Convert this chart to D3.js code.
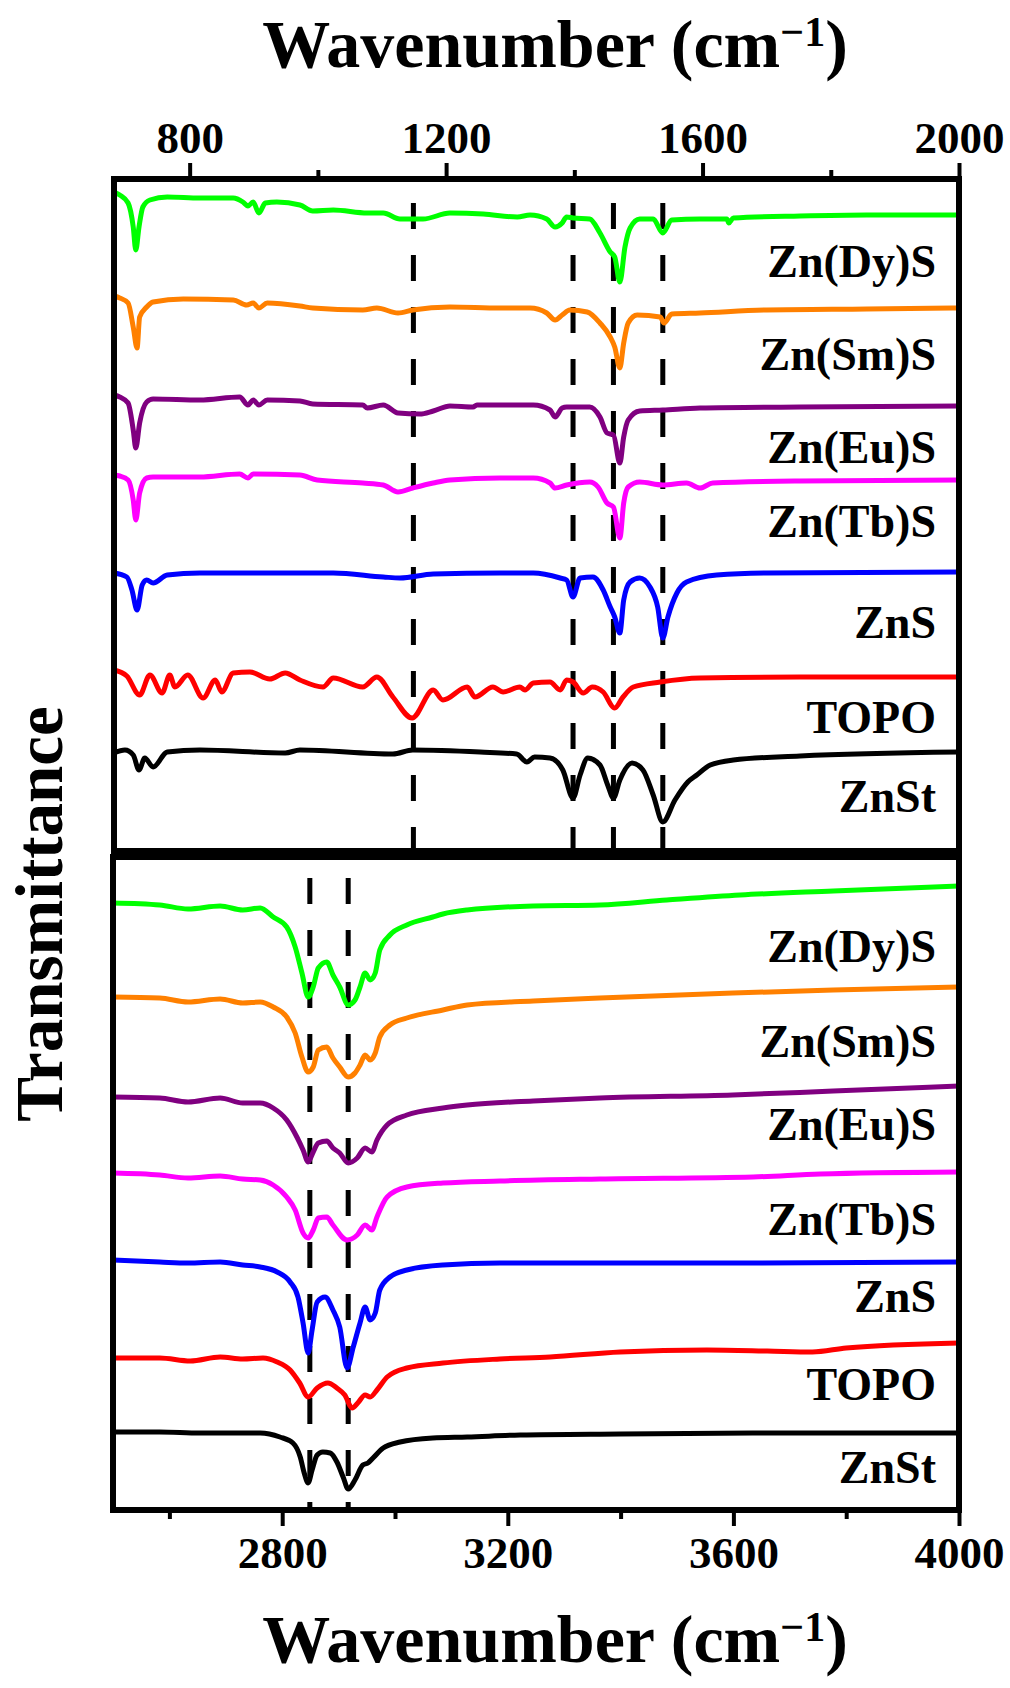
<!DOCTYPE html>
<html><head><meta charset="utf-8">
<script src="https://cdn.jsdelivr.net/npm/d3@7"></script>
<style>
body{margin:0;background:#fff}
svg{display:block}
text{font-family:"Liberation Serif","Times New Roman",serif;font-weight:bold;fill:#000}
</style>
</head><body>
<svg id="chart" width="1010" height="1688"></svg>
<script>
// ---------- DATA (wavenumber cm^-1, transmittance a.u., stacked) ----------
const seriesNames = ["Zn(Dy)S","Zn(Sm)S","Zn(Eu)S","Zn(Tb)S","ZnS","TOPO","ZnSt"];

// Low-wavenumber region (682–2000 cm-1)
const lowDy = [[682,659],[691,656],[704,648],[712,624],[716,601],[721,624],[727,644],[738,651],[765,654],[816,653],[868,653],[883,649],[891,645],[899,649],[908,638],[918,648],[936,649],[972,646],[992,640],[1024,641],[1077,638],[1102,638],[1128,632],[1148,632],[1164,632],[1206,638],[1258,637],[1311,634],[1331,636],[1357,632],[1370,624],[1381,628],[1388,634],[1398,633],[1424,632],[1440,618],[1456,599],[1463,594],[1471,569],[1479,604],[1487,623],[1502,632],[1523,632],[1538,618],[1552,631],[1596,632],[1638,632],[1641,628],[1648,633],[1752,635],[1856,636],[2000,636]];
const lowSm = [[682,555],[691,553],[704,548],[712,524],[718,503],[722,534],[733,544],[743,549],[790,552],[868,551],[889,546],[899,548],[908,543],[921,548],[972,545],[992,543],[1070,541],[1092,543],[1125,538],[1148,541],[1206,544],[1284,543],[1331,543],[1357,538],[1370,531],[1381,536],[1393,541],[1420,539],[1440,528],[1456,514],[1463,504],[1471,483],[1477,508],[1484,528],[1498,536],[1534,534],[1540,528],[1552,537],[1596,538],[1700,541],[1856,542],[2000,543]];
const lowEu = [[682,456],[691,454],[704,448],[712,421],[716,403],[722,428],[733,449],[743,452],[816,451],[878,454],[891,446],[899,451],[908,446],[921,451],[972,450],[992,447],[1070,446],[1077,443],[1102,446],[1125,438],[1159,437],[1180,440],[1206,445],[1242,444],[1248,446],[1336,446],[1362,441],[1370,434],[1381,443],[1388,444],[1424,444],[1440,434],[1451,418],[1461,416],[1471,388],[1477,414],[1484,431],[1502,440],[1538,441],[1596,443],[1752,444],[2000,445]];
const lowTb = [[682,376],[691,375],[704,371],[712,351],[716,331],[722,358],[733,373],[743,374],[816,374],[878,377],[891,373],[899,377],[972,376],[999,371],[1070,368],[1102,366],[1125,359],[1148,363],[1180,368],[1206,371],[1284,373],[1336,373],[1362,368],[1370,363],[1388,366],[1424,369],[1437,364],[1451,348],[1461,344],[1471,313],[1477,348],[1484,364],[1502,369],[1538,366],[1575,368],[1596,363],[1616,368],[1752,370],[2000,371]];
const lowZnS = [[682,278],[702,274],[710,261],[718,241],[726,266],[733,271],[743,268],[765,276],[816,278],[889,278],[1024,278],[1102,274],[1128,273],[1180,277],[1284,278],[1336,278],[1378,273],[1388,271],[1398,254],[1409,273],[1429,274],[1445,261],[1456,244],[1463,234],[1471,218],[1477,251],[1487,269],[1502,273],[1518,264],[1530,244],[1538,213],[1546,234],[1560,258],[1575,269],[1622,276],[1700,278],[2000,279]];
const lowTOPO = [[682,181],[702,175],[722,156],[738,176],[757,158],[769,176],[777,164],[797,176],[821,153],[840,171],[850,159],[868,178],[894,179],[925,172],[949,178],[972,171],[1008,164],[1024,173],[1070,164],[1092,174],[1117,154],[1147,133],[1180,161],[1195,151],[1233,164],[1245,154],[1273,164],[1289,159],[1315,164],[1323,161],[1336,168],[1362,169],[1378,161],[1388,171],[1398,169],[1414,158],[1428,164],[1445,159],[1463,143],[1476,154],[1492,164],[1534,169],[1596,173],[1752,174],[2000,174]];
const lowZnSt = [[682,98],[699,101],[712,96],[721,81],[730,93],[743,84],[765,99],[816,101],[949,98],[972,101],[1117,97],[1148,101],[1253,99],[1310,97],[1326,89],[1338,94],[1362,93],[1382,81],[1398,53],[1409,76],[1421,93],[1440,86],[1452,66],[1461,53],[1471,71],[1490,88],[1507,81],[1523,56],[1538,29],[1557,51],[1577,69],[1591,76],[1612,86],[1648,91],[1752,95],[2000,99]];

// High-wavenumber region (2500–4000 cm-1)
const highDy = [[2500,607],[2583,605],[2633,601],[2690,604],[2730,600],[2761,602],[2784,593],[2808,583],[2823,563],[2835,537],[2846,513],[2855,523],[2864,542],[2879,548],[2890,535],[2902,523],[2917,505],[2929,510],[2938,523],[2947,537],[2956,530],[2965,537],[2973,560],[2991,575],[3021,585],[3067,593],[3085,596],[3128,600],[3245,604],[3363,605],[3482,610],[3612,615],[3777,619],[4000,624]];
const highSm = [[2500,513],[2583,512],[2633,508],[2690,511],[2730,507],[2761,508],[2784,503],[2808,493],[2823,477],[2835,453],[2846,438],[2855,443],[2864,460],[2879,463],[2890,452],[2902,443],[2917,433],[2929,437],[2938,445],[2947,455],[2956,450],[2965,457],[2973,473],[2991,485],[3021,492],[3085,500],[3128,505],[3245,509],[3363,512],[3599,517],[3777,520],[4000,523]];
const highEu = [[2500,413],[2583,412],[2633,408],[2690,412],[2730,407],[2761,407],[2784,402],[2808,390],[2826,373],[2837,360],[2846,348],[2855,358],[2864,367],[2879,369],[2890,362],[2902,357],[2917,347],[2933,352],[2947,362],[2959,358],[2968,370],[2986,385],[3021,395],[3085,402],[3128,405],[3245,409],[3363,412],[3599,415],[3777,419],[4000,424]];
const highTb = [[2500,337],[2583,335],[2633,332],[2690,334],[2730,331],[2761,330],[2784,325],[2808,313],[2823,300],[2837,277],[2846,272],[2855,280],[2864,292],[2879,293],[2890,285],[2915,270],[2933,275],[2947,285],[2959,280],[2968,293],[2986,313],[3021,323],[3085,327],[3186,329],[3363,331],[3635,333],[3754,336],[4000,338]];
const highZnS = [[2500,250],[2583,248],[2633,247],[2690,248],[2730,245],[2761,243],[2791,238],[2814,228],[2828,213],[2837,187],[2846,157],[2853,180],[2862,208],[2876,213],[2890,200],[2902,183],[2915,142],[2926,163],[2938,187],[2947,203],[2956,190],[2965,197],[2973,220],[2991,233],[3021,240],[3085,245],[3186,247],[3635,247],[4000,248]];
const highTOPO = [[2500,152],[2583,152],[2637,149],[2690,153],[2730,151],[2766,152],[2791,148],[2814,140],[2831,127],[2846,113],[2862,122],[2881,127],[2897,122],[2911,115],[2924,102],[2934,107],[2947,115],[2956,113],[2968,120],[2986,133],[3021,142],[3085,147],[3186,151],[3275,153],[3399,158],[3553,160],[3660,159],[3740,158],[3800,162],[4000,167]];
const highZnSt = [[2500,78],[2583,78],[2654,77],[2713,77],[2761,77],[2796,73],[2819,67],[2832,53],[2839,37],[2846,27],[2853,40],[2862,55],[2872,58],[2885,57],[2897,48],[2908,33],[2917,21],[2929,30],[2943,45],[2952,47],[2961,52],[2979,62],[3009,68],[3067,72],[3128,73],[3222,75],[3399,76],[3635,77],[4000,77]];

// Axis ticks and marker lines
const lowMajorTicks = [800,1200,1600,2000];
const lowMinorTicks = [1000,1400,1800];
const highMajorTicks = [2800,3200,3600,4000];
const highMinorTicks = [2600,3000,3400,3800];
const lowMarkers = [1149,1398,1461,1538];
const highMarkers = [2849,2917];

// ---------- STYLE / LAYOUT ----------
const colors = ["#00ff00","#ff8000","#800080","#ff00ff","#0000ff","#ff0000","#000000"];
const svg = d3.select("#chart");

const panels = [
  {series:[lowDy,lowSm,lowEu,lowTb,lowZnS,lowTOPO,lowZnSt], xDomain:[682,2000], xRange:[114,959],
   yDomain:[0,672], yRange:[851,179], major:lowMajorTicks, minor:lowMinorTicks, markers:lowMarkers,
   axis:"top", dashStart:24, labelY:[277,370,463,537,638,733,812]},
  {series:[highDy,highSm,highEu,highTb,highZnS,highTOPO,highZnSt], xDomain:[2500,4000], xRange:[113,959],
   yDomain:[0,653], yRange:[1510,857], major:highMajorTicks, minor:highMinorTicks, markers:highMarkers,
   axis:"bottom", dashStart:21, labelY:[962,1057,1140,1235,1312,1400,1483]}
];

panels.forEach(p => {
  const x = d3.scaleLinear().domain(p.xDomain).range(p.xRange);
  const y = d3.scaleLinear().domain(p.yDomain).range(p.yRange);
  const top = p.yRange[1], bot = p.yRange[0];

  // dashed marker lines
  svg.append("g").selectAll("line").data(p.markers).join("line")
    .attr("x1", d => x(d)).attr("x2", d => x(d))
    .attr("y1", top + p.dashStart).attr("y2", bot)
    .attr("stroke", "#000").attr("stroke-width", 5).attr("stroke-dasharray", "26,26");

  // spectra
  const line = d3.line().x(d => x(d[0])).y(d => y(d[1])).curve(d3.curveMonotoneX);
  svg.append("g").selectAll("path").data(p.series).join("path")
    .attr("d", line).attr("fill", "none")
    .attr("stroke", (d, i) => colors[i]).attr("stroke-width", 5)
    .attr("stroke-linejoin", "round").attr("stroke-linecap", "round");

  // labels
  svg.append("g").selectAll("text").data(seriesNames).join("text")
    .attr("x", 936).attr("y", (d, i) => p.labelY[i])
    .attr("text-anchor", "end").attr("font-size", 46).text(d => d);

  // frame
  svg.append("rect").attr("x", p.xRange[0]).attr("y", top)
    .attr("width", p.xRange[1] - p.xRange[0]).attr("height", bot - top)
    .attr("fill", "none").attr("stroke", "#000").attr("stroke-width", 6);

  // axes
  const isTop = p.axis === "top";
  const ay = isTop ? top : bot;
  const mk = isTop ? d3.axisTop : d3.axisBottom;
  const gMaj = svg.append("g").attr("transform", `translate(0,${ay})`)
    .call(mk(x).tickValues(p.major).tickSize(16).tickPadding(10).tickFormat(d3.format("d")));
  const gMin = svg.append("g").attr("transform", `translate(0,${ay})`)
    .call(mk(x).tickValues(p.minor).tickSize(9).tickFormat(""));
  [gMaj, gMin].forEach(g => {
    g.select(".domain").remove();
    g.selectAll(".tick line").attr("stroke", "#000").attr("stroke-width", 4);
    g.attr("font-family", null).attr("font-size", null);
  });
  gMaj.selectAll(".tick text").attr("font-size", 45).attr("fill", "#000");
});

// axis titles
function wavTitle(yBase) {
  const t = svg.append("text").attr("x", 555).attr("y", yBase)
    .attr("text-anchor", "middle").attr("font-size", 68);
  t.append("tspan").text("Wavenumber (cm");
  t.append("tspan").attr("font-size", 42).attr("dy", -21).text("\u22121");
  t.append("tspan").attr("dy", 21).text(")");
}
wavTitle(67);
wavTitle(1662);

svg.append("text").attr("transform", "translate(62,914) rotate(-90)")
  .attr("text-anchor", "middle").attr("font-size", 67).text("Transmittance");
</script>
</body></html>
